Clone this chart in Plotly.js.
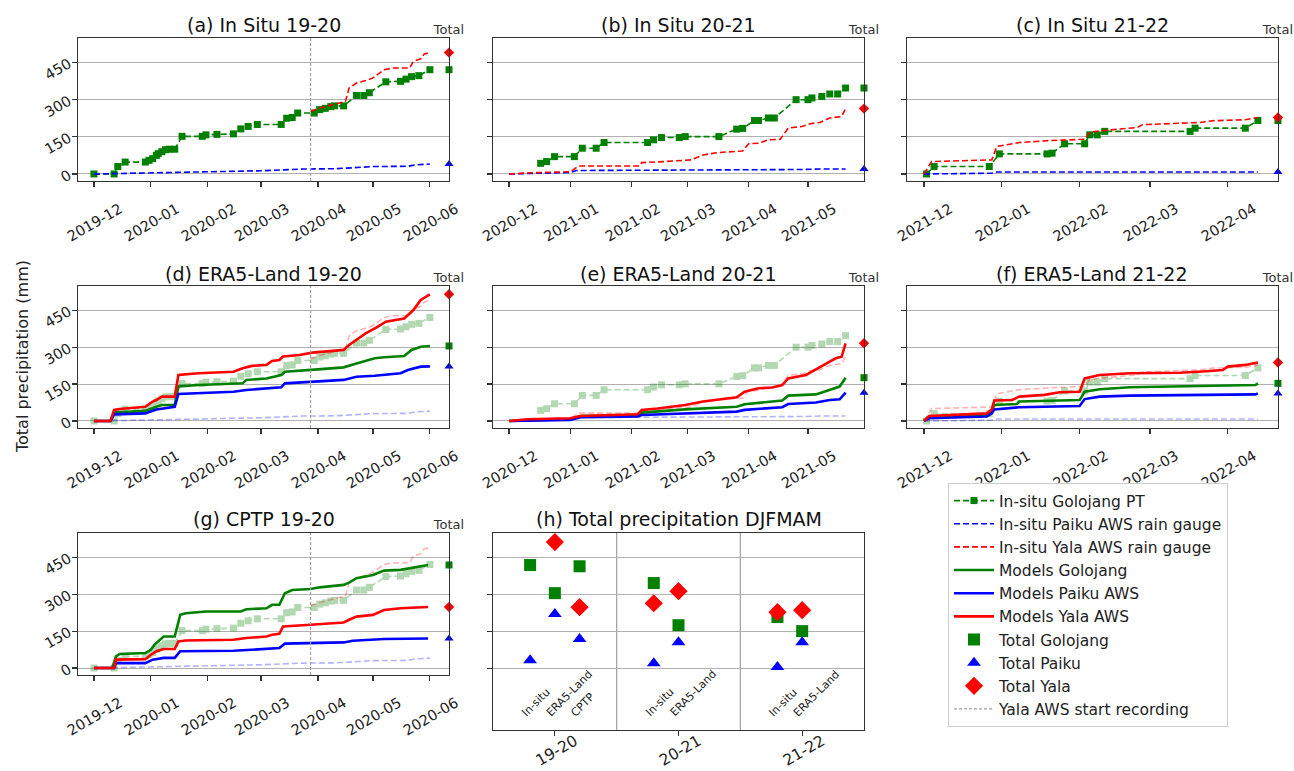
<!DOCTYPE html>
<html><head><meta charset="utf-8">
<script src="https://cdn.plot.ly/plotly-3.0.1.min.js"></script>
<style>html,body{margin:0;padding:0;background:#fff;}#chart{width:1294px;height:771px;}</style>
</head><body><div id="chart"></div>
<script>
// ---------------- In-situ 2019-20 ----------------
const golPT1920Dates = ['2019-12-01','2019-12-12','2019-12-14','2019-12-18','2019-12-29','2019-12-31','2020-01-02','2020-01-04','2020-01-05','2020-01-07','2020-01-09','2020-01-11','2020-01-14','2020-01-18','2020-01-29','2020-01-31','2020-02-06','2020-02-15','2020-02-19','2020-02-23','2020-02-28','2020-03-12','2020-03-15','2020-03-18','2020-03-21','2020-03-30','2020-04-02','2020-04-05','2020-04-08','2020-04-10','2020-04-15','2020-04-22','2020-04-26','2020-04-29','2020-05-08','2020-05-16','2020-05-19','2020-05-22','2020-05-26','2020-06-01'];
const golPT1920Vals = [0,0,30,48,48,55,62,75,82,90,98,100,100,152,152,158,160,162,182,192,200,200,225,228,246,246,260,265,272,275,275,317,317,328,372,374,383,393,397,421];
const paiku1920Dates = ['2019-12-01','2020-01-01','2020-02-01','2020-03-01','2020-03-24','2020-04-10','2020-04-20','2020-05-01','2020-05-20','2020-05-24','2020-06-01'];
const paiku1920Vals = [0,4,8,13,20,21,25,30,31,37,40];
const yala1920Dates = ['2020-03-28','2020-04-02','2020-04-09','2020-04-16','2020-04-18','2020-04-22','2020-04-27','2020-05-01','2020-05-07','2020-05-12','2020-05-21','2020-05-23','2020-05-27','2020-05-29','2020-06-01'];
const yala1920Vals = [253,266,280,293,347,367,377,388,421,428,428,455,465,485,490];
const yalaStartDate = '2020-03-28';

// ---------------- In-situ 2020-21 ----------------
const golPT2021Dates = ['2020-12-17','2020-12-20','2020-12-24','2021-01-03','2021-01-07','2021-01-14','2021-01-18','2021-02-09','2021-02-12','2021-02-16','2021-02-25','2021-02-28','2021-03-17','2021-03-26','2021-03-29','2021-04-04','2021-04-06','2021-04-11','2021-04-14','2021-04-25','2021-05-01','2021-05-03','2021-05-08','2021-05-12','2021-05-16','2021-05-20'];
const golPT2021Vals = [43,50,70,70,104,104,127,127,138,147,147,151,151,181,184,216,216,226,226,300,300,307,313,323,323,347];
const paiku2021Dates = ['2020-12-01','2020-12-15','2021-01-01','2021-01-04','2021-04-20','2021-04-28','2021-05-07','2021-05-20'];
const paiku2021Vals = [0,3,6,14,15,18,20,20];
const yala2021Dates = ['2020-12-01','2020-12-12','2021-01-01','2021-01-05','2021-02-05','2021-02-06','2021-02-17','2021-03-03','2021-03-09','2021-03-16','2021-03-29','2021-04-01','2021-04-06','2021-04-11','2021-04-17','2021-04-21','2021-04-28','2021-05-02','2021-05-07','2021-05-12','2021-05-18','2021-05-20'];
const yala2021Vals = [0,5,9,32,32,46,50,57,77,86,93,122,124,138,140,185,192,203,208,226,232,264];

// ---------------- In-situ 2021-22 ----------------
const golPT2122Dates = ['2021-12-02','2021-12-05','2021-12-27','2021-12-31','2022-01-19','2022-01-21','2022-01-26','2022-02-03','2022-02-05','2022-02-08','2022-02-11','2022-03-17','2022-03-19','2022-04-08','2022-04-13'];
const golPT2122Vals = [0,30,30,81,81,84,122,122,158,158,172,172,185,185,216];
const paiku2122Dates = ['2021-12-01','2021-12-28','2021-12-30','2022-04-13'];
const paiku2122Vals = [0,3,8,8];
const yala2122Dates = ['2021-12-01','2021-12-04','2021-12-28','2021-12-30','2022-01-08','2022-01-20','2022-02-03','2022-02-05','2022-02-09','2022-02-24','2022-02-26','2022-03-21','2022-03-26','2022-04-08','2022-04-13'];
const yala2122Vals = [0,50,57,111,127,135,140,168,174,188,199,208,215,219,228];

// ---------------- ERA5-Land ----------------
const era5Gol1920Dates = ['2019-12-01','2019-12-10','2019-12-12','2019-12-29','2020-01-04','2020-01-07','2020-01-14','2020-01-16','2020-01-27','2020-02-20','2020-02-22','2020-03-04','2020-03-12','2020-03-14','2020-04-01','2020-04-15','2020-04-22','2020-05-02','2020-05-07','2020-05-18','2020-05-22','2020-05-27','2020-06-01'];
const era5Gol1920Vals = [0,0,34,41,58,65,65,140,146,153,167,173,187,200,210,218,234,255,259,264,289,302,305];
const era5Pai1920Dates = ['2019-12-01','2019-12-10','2019-12-12','2019-12-29','2020-01-04','2020-01-14','2020-01-16','2020-02-15','2020-02-22','2020-03-04','2020-03-12','2020-03-14','2020-04-01','2020-04-15','2020-04-22','2020-05-02','2020-05-16','2020-05-20','2020-05-27','2020-06-01'];
const era5Pai1920Vals = [0,0,27,31,47,58,110,119,126,133,137,153,160,167,180,184,194,207,221,222];
const era5Yala1920Dates = ['2019-12-01','2019-12-10','2019-12-12','2019-12-15','2019-12-29','2020-01-02','2020-01-04','2020-01-07','2020-01-14','2020-01-16','2020-01-27','2020-02-15','2020-02-20','2020-02-25','2020-03-04','2020-03-07','2020-03-11','2020-03-13','2020-03-22','2020-03-29','2020-04-09','2020-04-15','2020-04-18','2020-04-22','2020-04-27','2020-05-03','2020-05-08','2020-05-18','2020-05-23','2020-05-27','2020-06-01'];
const era5Yala1920Vals = [0,0,45,49,58,79,85,99,99,187,194,200,214,224,228,244,248,262,268,278,285,289,309,329,356,381,404,417,451,492,515];

const era5Gol2021Dates = ['2020-12-01','2021-01-01','2021-01-06','2021-02-04','2021-02-06','2021-02-28','2021-03-26','2021-03-30','2021-04-18','2021-04-21','2021-05-05','2021-05-12','2021-05-17','2021-05-20'];
const era5Gol2021Vals = [0,7,20,24,34,47,58,68,83,103,108,126,140,176];
const era5Pai2021Dates = ['2020-12-01','2021-01-01','2021-01-06','2021-02-04','2021-02-06','2021-02-28','2021-03-26','2021-03-30','2021-04-18','2021-04-21','2021-05-05','2021-05-12','2021-05-17','2021-05-20'];
const era5Pai2021Vals = [0,4,15,18,24,31,38,45,56,69,75,85,88,115];
const era5Yala2021Dates = ['2020-12-01','2020-12-10','2021-01-01','2021-01-06','2021-02-04','2021-02-06','2021-02-14','2021-02-20','2021-02-28','2021-03-09','2021-03-26','2021-03-30','2021-04-06','2021-04-13','2021-04-18','2021-04-21','2021-04-30','2021-05-05','2021-05-10','2021-05-15','2021-05-18','2021-05-20'];
const era5Yala2021Vals = [0,7,11,20,27,45,51,56,65,79,96,119,133,136,146,173,187,210,234,255,261,316];

const era5Gol2122Dates = ['2021-12-01','2021-12-03','2021-12-26','2021-12-28','2021-12-29','2022-01-07','2022-01-08','2022-01-18','2022-02-01','2022-02-03','2022-02-09','2022-02-21','2022-03-13','2022-04-01','2022-04-12','2022-04-13'];
const era5Gol2122Vals = [0,18,22,45,65,69,79,81,85,119,129,137,140,144,146,153];
const era5Pai2122Dates = ['2021-12-01','2021-12-03','2021-12-26','2021-12-28','2021-12-29','2022-01-08','2022-02-01','2022-02-03','2022-02-09','2022-02-21','2022-04-12','2022-04-13'];
const era5Pai2122Vals = [0,11,18,31,47,56,61,89,99,103,108,112];
const era5Yala2122Dates = ['2021-12-01','2021-12-03','2021-12-26','2021-12-28','2021-12-29','2022-01-05','2022-01-08','2022-01-18','2022-01-24','2022-02-01','2022-02-03','2022-02-09','2022-02-21','2022-03-13','2022-03-22','2022-03-30','2022-04-01','2022-04-08','2022-04-13'];
const era5Yala2122Vals = [0,20,31,47,83,85,99,106,117,119,173,187,194,196,201,207,221,228,238];

// ---------------- CPTP 2019-20 ----------------
const cptpGol1920Dates = ['2019-12-01','2019-12-11','2019-12-13','2019-12-15','2019-12-29','2020-01-01','2020-01-03','2020-01-05','2020-01-08','2020-01-14','2020-01-17','2020-01-20','2020-01-31','2020-02-19','2020-02-22','2020-03-04','2020-03-07','2020-03-11','2020-03-14','2020-03-18','2020-03-28','2020-04-02','2020-04-15','2020-04-18','2020-04-22','2020-05-01','2020-05-07','2020-05-16','2020-05-21','2020-05-27','2020-05-31'];
const cptpGol1920Vals = [0,0,47,57,61,74,95,108,128,128,216,223,230,230,239,243,257,257,304,317,321,328,338,347,365,378,396,399,405,415,419];
const cptpPai1920Dates = ['2019-12-01','2019-12-12','2019-12-13','2019-12-29','2020-01-02','2020-01-08','2020-01-14','2020-01-17','2020-02-15','2020-03-04','2020-03-11','2020-03-14','2020-04-15','2020-04-20','2020-05-07','2020-05-31'];
const cptpPai1920Vals = [0,0,20,20,34,41,41,68,70,77,81,99,104,111,118,120];
const cptpYala1920Dates = ['2019-12-01','2019-12-12','2019-12-13','2019-12-29','2020-01-01','2020-01-04','2020-01-08','2020-01-14','2020-01-16','2020-01-20','2020-02-15','2020-02-22','2020-03-04','2020-03-07','2020-03-11','2020-03-13','2020-03-28','2020-04-15','2020-04-18','2020-04-22','2020-05-01','2020-05-07','2020-05-16','2020-05-31'];
const cptpYala1920Vals = [0,0,34,36,54,68,77,77,108,112,115,122,128,135,139,169,176,185,196,209,216,236,243,248];

// ---------------- (h) totals DJFMAM ----------------
const hSeasons = ['19-20','20-21','21-22'];
const hSources = ['In-situ','ERA5-Land','CPTP'];
const hGolInsitu = [418,345,207], hGolEra5 = [304,174,150], hGolCptp = [413,null,null];
const hPaiInsitu = [32,20,4],     hPaiEra5 = [219,105,105], hPaiCptp = [118,null,null];
const hYalaInsitu = [null,263,227], hYalaEra5 = [511,312,235], hYalaCptp = [247,null,null];
const yTicks = [0,150,300,450];

// ---------------- build ----------------
const GREEN='#008000', BLUE='#0000ff', RED='#ff0000';
const last = a => a[a.length-1];
const xr = n => 'x'+(n===1?'':n), yr = n => 'y'+(n===1?'':n);
const data = [];

function insitu(n, s, faded, leg){
  const op = faded?0.3:1;
  data.push({type:'scatter',mode:'lines+markers',x:s.gD,y:s.gV,xaxis:xr(n),yaxis:yr(n),opacity:op,
    line:{color:GREEN,width:1.6,dash:'6px,3px'},marker:{symbol:'square',size:7,color:GREEN},
    name:'In-situ Golojang PT',showlegend:leg,legendgroup:'g1',legendrank:1});
  data.push({type:'scatter',mode:'lines',x:s.pD,y:s.pV,xaxis:xr(n),yaxis:yr(n),opacity:op,
    line:{color:BLUE,width:1.6,dash:'6px,3px'},name:'In-situ Paiku AWS rain gauge',showlegend:leg,legendgroup:'g2',legendrank:2});
  data.push({type:'scatter',mode:'lines',x:s.yD,y:s.yV,xaxis:xr(n),yaxis:yr(n),opacity:op,
    line:{color:RED,width:1.6,dash:'6px,3px'},name:'In-situ Yala AWS rain gauge',showlegend:leg,legendgroup:'g3',legendrank:3});
}
function model(n, m, leg){
  data.push({type:'scatter',mode:'lines',x:m.gD,y:m.gV,xaxis:xr(n),yaxis:yr(n),line:{color:GREEN,width:2.6},
    name:'Models Golojang',showlegend:leg,legendgroup:'g4',legendrank:4});
  data.push({type:'scatter',mode:'lines',x:m.pD,y:m.pV,xaxis:xr(n),yaxis:yr(n),line:{color:BLUE,width:2.6},
    name:'Models Paiku AWS',showlegend:leg,legendgroup:'g5',legendrank:5});
  data.push({type:'scatter',mode:'lines',x:m.yD,y:m.yV,xaxis:xr(n),yaxis:yr(n),line:{color:RED,width:2.6},
    name:'Models Yala AWS',showlegend:leg,legendgroup:'g6',legendrank:6});
}
function totals(n, g, p, y){
  const xa = 'x'+(n+8);
  data.push({type:'scatter',mode:'markers',x:['Total'],y:[g],xaxis:xa,yaxis:yr(n),cliponaxis:false,marker:{symbol:'square',size:7,color:GREEN},showlegend:false,hoverinfo:'skip'});
  data.push({type:'scatter',mode:'markers',x:['Total'],y:[p],xaxis:xa,yaxis:yr(n),cliponaxis:false,marker:{symbol:'triangle-up',size:8,color:BLUE},showlegend:false,hoverinfo:'skip'});
  data.push({type:'scatter',mode:'markers',x:['Total'],y:[y],xaxis:xa,yaxis:yr(n),cliponaxis:false,marker:{symbol:'diamond',size:8,color:RED},showlegend:false,hoverinfo:'skip'});
}

const s1920 = {gD:golPT1920Dates,gV:golPT1920Vals,pD:paiku1920Dates,pV:paiku1920Vals,yD:yala1920Dates,yV:yala1920Vals};
const s2021 = {gD:golPT2021Dates,gV:golPT2021Vals,pD:paiku2021Dates,pV:paiku2021Vals,yD:yala2021Dates,yV:yala2021Vals};
const s2122 = {gD:golPT2122Dates,gV:golPT2122Vals,pD:paiku2122Dates,pV:paiku2122Vals,yD:yala2122Dates,yV:yala2122Vals};
const e1920 = {gD:era5Gol1920Dates,gV:era5Gol1920Vals,pD:era5Pai1920Dates,pV:era5Pai1920Vals,yD:era5Yala1920Dates,yV:era5Yala1920Vals};
const e2021 = {gD:era5Gol2021Dates,gV:era5Gol2021Vals,pD:era5Pai2021Dates,pV:era5Pai2021Vals,yD:era5Yala2021Dates,yV:era5Yala2021Vals};
const e2122 = {gD:era5Gol2122Dates,gV:era5Gol2122Vals,pD:era5Pai2122Dates,pV:era5Pai2122Vals,yD:era5Yala2122Dates,yV:era5Yala2122Vals};
const c1920 = {gD:cptpGol1920Dates,gV:cptpGol1920Vals,pD:cptpPai1920Dates,pV:cptpPai1920Vals,yD:cptpYala1920Dates,yV:cptpYala1920Vals};

// row 1: in situ
[[1,s1920],[2,s2021],[3,s2122]].forEach(([n,s],i)=>{ insitu(n,s,false,i===0); totals(n,last(s.gV),last(s.pV),last(s.yV)); });
// rows 2-3: models over faded in situ
[[4,s1920,e1920],[5,s2021,e2021],[6,s2122,e2122],[7,s1920,c1920]].forEach(([n,s,m])=>{
  insitu(n,s,true,false); model(n,m,n===4); totals(n,last(m.gV),last(m.pV),last(m.yV));
});
// (h)
const offs = [-0.2,0,0.2];
function hTrace(name, arrs, sym, size, color, rank){
  const xs=[], ys=[];
  arrs.forEach((arr,si)=>arr.forEach((v,k)=>{ if(v!==null){ xs.push(k+offs[si]); ys.push(v);} }));
  data.push({type:'scatter',mode:'markers',x:xs,y:ys,xaxis:'x8',yaxis:'y8',marker:{symbol:sym,size:size,color:color},
    name:name,showlegend:true,legendgroup:'g'+rank,legendrank:rank});
}
hTrace('Total Golojang',[hGolInsitu,hGolEra5,hGolCptp],'square',12,GREEN,7);
hTrace('Total Paiku',[hPaiInsitu,hPaiEra5,hPaiCptp],'triangle-up',12,BLUE,8);
hTrace('Total Yala',[hYalaInsitu,hYalaEra5,hYalaCptp],'diamond',14,RED,9);
data.push({type:'scatter',mode:'lines',x:[null],y:[null],xaxis:'x',yaxis:'y',line:{color:'#a0a0a0',width:1.2,dash:'3px,2px'},
  name:'Yala AWS start recording',showlegend:true,legendgroup:'g10',legendrank:10});

// ---------------- layout ----------------
const colX = [[0.0603,0.3470],[0.3810,0.6677],[0.7009,0.9876]];
const rowY = [[0.7652,0.9507],[0.4449,0.6291],[0.1245,0.3087]];
const hY = [0.0532,0.3087];
const xRanges = [['2019-11-22 08:00','2020-06-11 10:00'],['2020-11-22 22:00','2021-05-29 07:00'],['2021-11-24 05:00','2022-04-21 00:00']];
const panels = [
  {n:1,t:'(a) In Situ 19-20',c:0,r:0},{n:2,t:'(b) In Situ 20-21',c:1,r:0},{n:3,t:'(c) In Situ 21-22',c:2,r:0},
  {n:4,t:'(d) ERA5-Land 19-20',c:0,r:1},{n:5,t:'(e) ERA5-Land 20-21',c:1,r:1},{n:6,t:'(f) ERA5-Land 21-22',c:2,r:1},
  {n:7,t:'(g) CPTP 19-20',c:0,r:2},{n:8,t:'(h) Total precipitation DJFMAM',c:1,r:2}
];
const titleY = [1-25/771, 1-274/771, 1-519/771];
const layout = {
  width:1294,height:771,margin:{l:0,r:0,t:0,b:0},paper_bgcolor:'#fff',plot_bgcolor:'#fff',
  font:{family:'DejaVu Sans',size:14.5,color:'#222'},
  showlegend:true,
  legend:{x:948/1294,y:1-483/771,xanchor:'left',yanchor:'top',font:{size:15.5,color:'#222'},bordercolor:'#cccccc',borderwidth:1,
    bgcolor:'#fff',traceorder:'grouped',tracegroupgap:0,itemwidth:40},
  annotations:[],shapes:[]
};
const frame = {showline:true,mirror:true,linecolor:'#333',linewidth:1.2,zeroline:false,ticks:'outside',ticklen:5,tickcolor:'#333',tickwidth:1.2};
panels.forEach(p=>{
  const k = p.n===1?'':p.n;
  const dom = p.n===8 ? hY : rowY[p.r];
  if(p.n===8){
    layout['xaxis'+k] = Object.assign({},frame,{domain:colX[p.c],anchor:'y'+k,range:[-0.5,2.5],tickvals:[0,1,2],ticktext:hSeasons,
      tickangle:-30,ticklabelshift:20,ticklabelstandoff:-10,showgrid:false,tickfont:{size:15.5}});
  } else {
    layout['xaxis'+k] = Object.assign({},frame,{type:'date',domain:colX[p.c],anchor:'y'+k,range:xRanges[p.c],tickformat:'%Y-%m',
      dtick:'M1',tick0:'2019-12-01',tickangle:-30,ticklabelshift:26,ticklabelstandoff:8,showgrid:false,tickfont:{size:14.5}});
  }
  layout['yaxis'+k] = Object.assign({},frame,{domain:dom,anchor:'x'+k,range:p.n===8?[-251,548]:[-28.5,549],tickvals:yTicks,
    showticklabels:p.c===0,tickangle:-30,showgrid:true,gridcolor:'#b0b0b0',gridwidth:1,tickfont:{size:14.5}});
  layout['xaxis'+(p.n+8)] = {overlaying:'x'+k,anchor:'y'+k,side:'top',type:'category',range:[-30,0.0001],showgrid:false,
    zeroline:false,showline:false,ticks:'',tickfont:{size:13,color:'#333'}};
  layout.annotations.push({xref:'paper',yref:'paper',x:(colX[p.c][0]+colX[p.c][1])/2,y:titleY[p.r],text:p.t,showarrow:false,
    xanchor:'center',yanchor:'middle',font:{size:19,color:'#111'}});
});
// Yala start recording lines
[1,4,7].forEach(n=>layout.shapes.push({type:'line',xref:xr(n),yref:yr(n)+' domain',x0:yalaStartDate,x1:yalaStartDate,y0:0,y1:1,
  line:{color:'#a0a0a0',width:1.2,dash:'3px,2px'}}));
// season separators in (h)
[0.5,1.5].forEach(v=>layout.shapes.push({type:'line',xref:'x8',yref:'y8 domain',x0:v,x1:v,y0:0,y1:1,line:{color:'#a0a0a0',width:1.2},layer:'below'}));
// source labels in (h)
const hLabelSources = [[0,1,2],[0,1],[0,1]];
hLabelSources.forEach((srcs,si)=>srcs.forEach(k=>{
  layout.annotations.push({xref:'x8',yref:'y8',x:si+offs[k]-0.11,y:-219,text:hSources[k],textangle:-45,showarrow:false,
    xanchor:'left',yanchor:'bottom',font:{size:11,color:'#222'}});
}));
layout.annotations.push({xref:'paper',yref:'paper',x:22/1294,y:1-357/771,text:'Total precipitation (mm)',textangle:-90,
  showarrow:false,xanchor:'center',yanchor:'middle',font:{size:16,color:'#222'}});

Plotly.newPlot('chart',data,layout,{staticPlot:true,displayModeBar:false});
</script></body></html>
